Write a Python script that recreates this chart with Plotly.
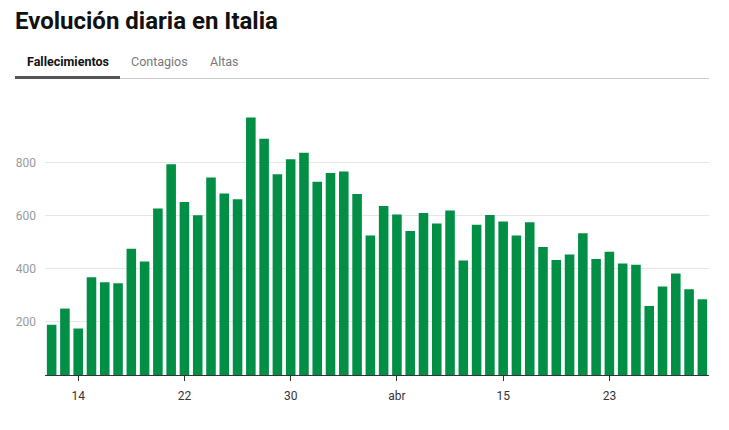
import plotly.graph_objects as go
import pandas as pd

dates = pd.date_range("2020-03-12", "2020-04-30", freq="D")
deaths = [189, 250, 175, 368, 349, 345, 475, 427, 627, 793,
          651, 601, 743, 683, 662, 969, 889, 756, 812, 837,
          727, 760, 766, 681, 525, 636, 604, 542, 610, 570,
          619, 431, 566, 602, 578, 525, 575, 482, 433, 454,
          534, 437, 464, 420, 415, 260, 333, 382, 323, 285]
tick_dates = ["2020-03-14", "2020-03-22", "2020-03-30", "2020-04-07", "2020-04-15", "2020-04-23"]
tick_labels = ["14", "22", "30", "abr", "15", "23"]
y_ticks = [200, 400, 600, 800]
title_text = "Evolución diaria en Italia"
tabs = ["Fallecimientos", "Contagios", "Altas"]

W, H = 729, 430
L, R, T, B = 45, 20, 112, 55
pw, ph = W - L - R, H - T - B

def px(x):
    return (x - L) / pw

def py(y):
    return (H - B - y) / ph

fig = go.Figure(go.Bar(x=dates, y=deaths, marker_color="#008f45",
                       marker_line_width=0, hoverinfo="x+y"))

annotations = [
    dict(text=f"<b>{title_text}</b>", x=px(13), y=py(21), xref="paper", yref="paper",
         xanchor="left", yanchor="middle", showarrow=False,
         font=dict(family="Roboto", size=24, color="#111111")),
]
tab_x = [25, 129, 208]
tab_colors = ["#111111", "#777777", "#777777"]
for i, (t, xx, cc) in enumerate(zip(tabs, tab_x, tab_colors)):
    label = f"<b>{t}</b>" if i == 0 else t
    annotations.append(dict(text=label, x=px(xx), y=py(61), xref="paper", yref="paper",
                            xanchor="left", yanchor="middle", showarrow=False,
                            font=dict(family="Roboto", size=12.5, color=cc)))

shapes = [
    dict(type="line", xref="paper", yref="paper", x0=px(15), x1=px(709), y0=py(78.5), y1=py(78.5),
         line=dict(color="#cccccc", width=1)),
    dict(type="line", xref="paper", yref="paper", x0=px(15), x1=px(120), y0=py(77.5), y1=py(77.5),
         line=dict(color="#555555", width=3)),
]

fig.update_layout(
    width=W, height=H,
    margin=dict(l=L, r=R, t=T, b=B),
    paper_bgcolor="white", plot_bgcolor="white",
    bargap=0.28,
    showlegend=False,
    annotations=annotations,
    shapes=shapes,
    font=dict(family="Roboto"),
    xaxis=dict(
        type="date",
        range=["2020-03-11 12:00", "2020-04-30 12:00"],
        tickvals=tick_dates, ticktext=tick_labels,
        ticks="outside", ticklen=5, tickcolor="#333333", tickwidth=1,
        ticklabelstandoff=5,
        showline=True, linecolor="#333333", linewidth=1,
        showgrid=False, zeroline=False,
        tickfont=dict(family="Roboto", size=12, color="#333333"),
        fixedrange=True,
    ),
    yaxis=dict(
        range=[0, 990],
        tickvals=y_ticks,
        showgrid=True, gridcolor="#e6e6e6", gridwidth=1,
        zeroline=False, showline=False,
        ticks="", ticklabelstandoff=8,
        tickfont=dict(family="Roboto", size=12, color="#999999"),
        fixedrange=True,
    ),
)

fig.write_html(
    "out.html",
    config={"displayModeBar": False},
    post_script="document.body.style.margin='0';document.body.style.overflow='hidden';",
)
